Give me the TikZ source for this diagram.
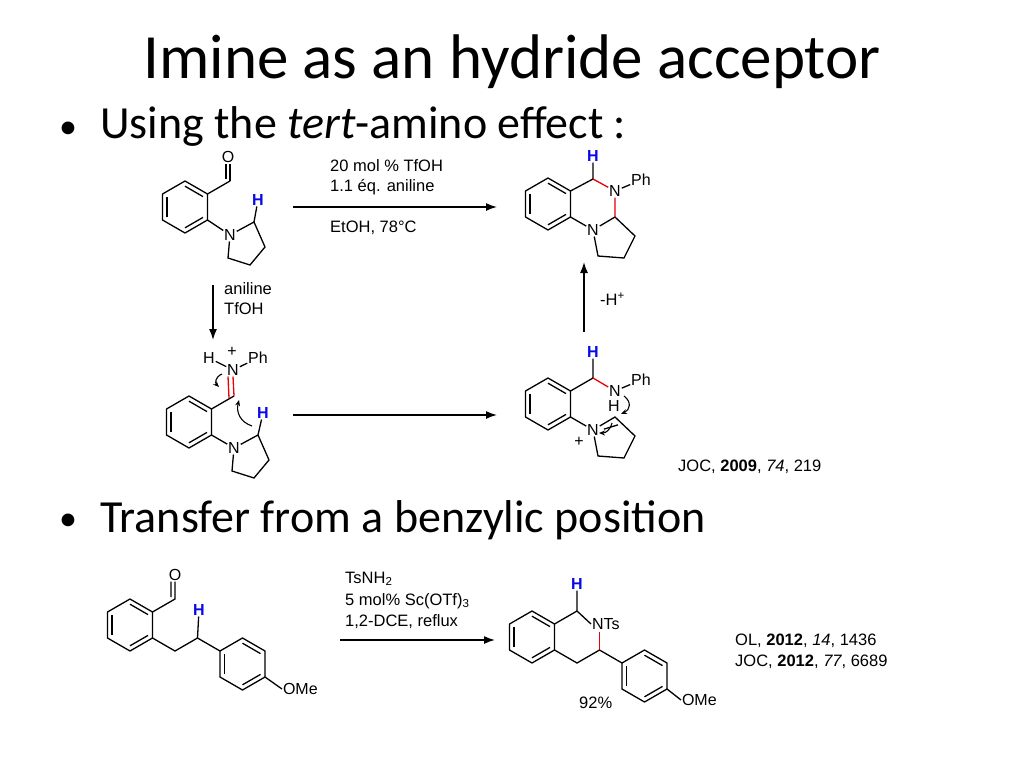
\documentclass[tikz,border=0pt]{standalone}
\usepackage{fontspec}
\setmainfont{Liberation Sans}
\newfontfamily\slide{Carlito}
\usetikzlibrary{calc,arrows.meta}
\definecolor{hred}{RGB}{235,0,0}
\definecolor{hblue}{RGB}{10,10,230}
\tikzset{
 bond/.style={line width=1.3pt},
 atom/.style={inner sep=0.8pt,font=\fontsize{16}{16}\selectfont},
 hb/.style={atom,text=hblue,font=\fontsize{16}{16}\selectfont\bfseries},
 lbl/.style={inner sep=0pt,anchor=west,font=\fontsize{16.5}{18}\selectfont},
 rxn/.style={line width=1.5pt,-{Latex[length=11pt,width=8pt]}},
 curl/.style={line width=1.1pt,-{Stealth[length=6pt,width=5pt]}},
 bullet/.style={inner sep=0pt,anchor=west,font=\slide\fontsize{46}{50}\selectfont},
 dot/.style={inner sep=0pt,font=\slide\fontsize{36}{40}\selectfont}
}
\newcommand\benz[2]{%
 \coordinate (#1c) at (#2);
 \coordinate (#1t) at ($(#1c)+(0,-26)$);
 \coordinate (#1ur) at ($(#1c)+(22.5,-13)$);
 \coordinate (#1lr) at ($(#1c)+(22.5,13)$);
 \coordinate (#1b) at ($(#1c)+(0,26)$);
 \coordinate (#1ll) at ($(#1c)+(-22.5,13)$);
 \coordinate (#1ul) at ($(#1c)+(-22.5,-13)$);
 \draw[bond,line join=round] (#1t)--(#1ur)--(#1lr)--(#1b)--(#1ll)--(#1ul)--cycle;
 \draw[bond] ($(#1ll)!0.2!(#1c)$)--($(#1ul)!0.2!(#1c)$);
 \draw[bond] ($(#1t)!0.2!(#1c)$)--($(#1ur)!0.2!(#1c)$);
 \draw[bond] ($(#1lr)!0.2!(#1c)$)--($(#1b)!0.2!(#1c)$);
}
\begin{document}
\begin{tikzpicture}[x=1pt,y=-1pt]
\useasboundingbox (0,0) rectangle (1024,768);
\fill[white] (0,0) rectangle (1024,768);
\node[font=\slide\fontsize{63}{70}\selectfont] (title) at (512,62) {Imine as an hydride acceptor};
\node[dot] (d1) at (68,130) {•};
\node[bullet] (b1) at (100,126) {Using the \textit{tert}-amino effect :};
\node[dot] (d2) at (68,522) {•};
\node[bullet] (b2) at (100,520) {Transfer from a benzylic position};

% ---- A
\benz{A}{185,207}
\coordinate (Acho) at (230,181);
\node[atom] (AO) at (228,157) {O};
\draw[bond] (Aur)--(Acho);
\draw[bond] (Acho)--(Acho|-AO.south);
\draw[bond] ($(Acho)+(-4,-2)$)--($(Acho|-AO.south)+(-4,0)$);
\node[atom] (AN) at (230,235) {N};
\coordinate (A2) at (254,222); \coordinate (A3) at (265,247);
\coordinate (A4) at (250,265); \coordinate (A5) at (228,258);
\node[hb] (AH) at (258,200) {H};
\draw[bond] (Alr)--(AN) (AN)--(A2)--(A3)--(A4)--(A5)--(AN) (A2)--(AH);

% ---- C (iminium)
\benz{C}{189,422}
\coordinate (Cch) at (234,396);
\node[atom] (CN) at (233,370) {N};
\node[atom] (CH1) at (209,358) {H};
\node[atom] (CPh) at (258,358) {Ph};
\node[atom] (Cplus) at (232,352) {+};
\draw[bond] (Cur)--(Cch);
\draw[bond,hred] (Cch)--(CN.south) ($(Cch)+(-5,2)$)--($(CN.south)+(-5,0)$);
\draw[bond] (CN)--(CH1) (CN)--(CPh);
\node[atom] (CNr) at (234,448) {N};
\coordinate (C2) at (258,435); \coordinate (C3) at (269,460);
\coordinate (C4) at (254,478); \coordinate (C5) at (232,471);
\node[hb] (CH) at (263,413) {H};
\draw[bond] (Clr)--(CNr) (CNr)--(C2)--(C3)--(C4)--(C5)--(CNr) (C2)--(CH);
\draw[curl] (252,426) .. controls (240,422) and (236,412) .. (239,400);
\draw[curl] (222,374) .. controls (215,377) and (215,383) .. (219,387);

% ---- B
\benz{B}{548,204}
\coordinate (Bch) at (593,179);
\node[hb] (BH) at (593,156) {H};
\node[atom] (BN) at (615,191) {N};
\node[atom] (BPh) at (641,180) {Ph};
\coordinate (B2) at (615,217);
\node[atom] (BNr) at (593,230) {N};
\coordinate (B3) at (635,236); \coordinate (B4) at (624,258); \coordinate (B5) at (598,256);
\draw[bond] (Bur)--(Bch)--(BH) (BN)--(BPh) (Blr)--(BNr) (BNr)--(B2)--(B3)--(B4)--(B5)--(BNr);
\draw[bond,hred] (Bch)--(BN) (BN)--(B2);

% ---- D
\benz{D}{548,404}
\coordinate (Dch) at (593,378);
\node[hb] (DH) at (593,352) {H};
\node[atom] (DN) at (615,391) {N};
\node[atom] (DPh) at (641,380) {Ph};
\node[atom] (DNH) at (614,406) {H};
\node[atom] (Dplus) at (579,442) {+};
\node[atom] (DNr) at (593,430) {N};
\coordinate (D2) at (615,417); \coordinate (D3) at (635,436); \coordinate (D4) at (624,458); \coordinate (D5) at (598,456);
\draw[bond] (Dur)--(Dch)--(DH) (DN)--(DPh) (Dlr)--(DNr) (DNr)--(D2)--(D3)--(D4)--(D5)--(DNr);
\draw[bond] ($(DNr)!0.45!(D2)+(1,5)$)--($(D2)!0.15!(D3)+(0,5)$);
\draw[bond,hred] (Dch)--(DN);
\draw[curl] (624,396) .. controls (632,402) and (630,410) .. (621,414);
\draw[curl] (612,423) .. controls (610,430) and (606,433) .. (599,433);

% ---- arrows and conditions
\coordinate (a1s) at (293,207); \coordinate (a1e) at (497,207);
\draw[rxn] (a1s)--(a1e);
\node[lbl] (t1) at (330,166) {20 mol \% TfOH};
\node[lbl] (t2) at (330,187) {1.1 éq. aniline};
\node[lbl] (t3) at (330,228) {EtOH, 78°C};
\coordinate (a2s) at (213,285); \coordinate (a2e) at (213,340);
\draw[rxn] (a2s)--(a2e);
\node[lbl] (t4) at (224,289) {aniline};
\node[lbl] (t5) at (224,309) {TfOH};
\coordinate (a3s) at (293,415); \coordinate (a3e) at (497,415);
\draw[rxn] (a3s)--(a3e);
\coordinate (a4s) at (584,332); \coordinate (a4e) at (584,262);
\draw[rxn] (a4s)--(a4e);
\node[lbl] (t6) at (600,299) {-H\textsuperscript{+}};
\node[lbl] (r1) at (678,467) {JOC, \textbf{2009}, \textit{74}, 219};

% ---- bottom reactant
\benz{E}{130,625}
\coordinate (Echo) at (175,599);
\node[atom] (EO) at (175,575) {O};
\draw[bond] (Eur)--(Echo)--(EO.south) ($(Echo)+(-4,-2)$)--($(EO.south)+(-4,0)$);
\coordinate (Ech2) at (175,651); \coordinate (Ech) at (197.5,638);
\node[hb] (EH) at (199,610) {H};
\draw[bond] (Elr)--(Ech2)--(Ech)--(EH);
\benz{F}{242.5,664}
\draw[bond] (Ech)--(Ful);
\node[atom,anchor=west] (FO) at (282,689) {OMe};
\draw[bond] (Flr)--(FO.west);

% ---- bottom arrow
\coordinate (a5s) at (340,640); \coordinate (a5e) at (495,640);
\draw[rxn] (a5s)--(a5e);
\node[lbl] (t7) at (345,579) {TsNH\textsubscript{2}};
\node[lbl] (t8) at (345,601) {5 mol\% Sc(OTf)\textsubscript{3}};
\node[lbl] (t9) at (345,622) {1,2-DCE, reflux};

% ---- bottom product
\benz{G}{532,637}
\coordinate (Gch) at (577,611);
\node[hb] (GH) at (577,584) {H};
\node[atom,anchor=west] (GN) at (591,624) {NTs};
\coordinate (G3) at (599.5,650); \coordinate (Gch2) at (577,663);
\draw[bond] (Gur)--(Gch)--(GN.west) (Gch)--(GH) (G3)--(Gch2)--(Glr);
\draw[bond,hred] (G3)--(599.5,632);
\benz{K}{644.5,676}
\draw[bond] (G3)--(Kul);
\node[atom,anchor=west] (KO) at (681,700) {OMe};
\draw[bond] (Klr)--(KO.west);
\node[lbl] (y1) at (579,703) {92\%};
\node[lbl] (r2) at (735,641) {OL, \textbf{2012}, \textit{14}, 1436};
\node[lbl] (r3) at (735,662) {JOC, \textbf{2012}, \textit{77}, 6689};
\end{tikzpicture}
\end{document}
